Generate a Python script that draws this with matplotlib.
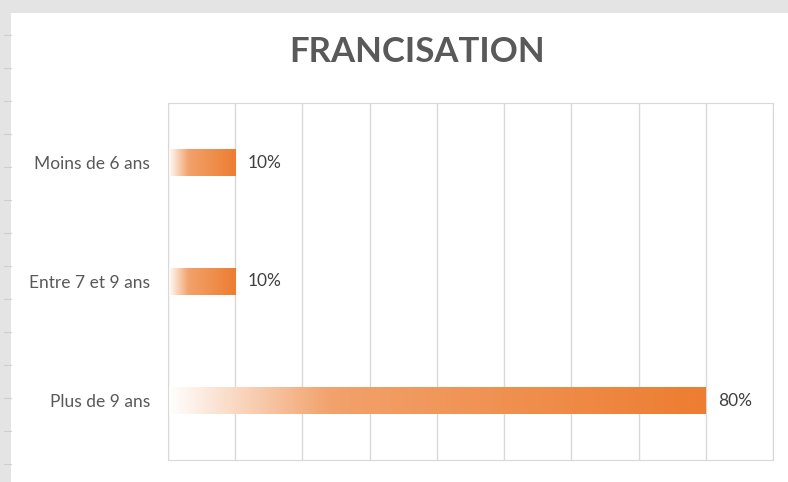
import numpy as np
import matplotlib.pyplot as plt
from matplotlib.colors import LinearSegmentedColormap
from matplotlib.patches import Rectangle

# data
categories = ['Moins de 6 ans', 'Entre 7 et 9 ans', 'Plus de 9 ans']
values = [0.10, 0.10, 0.80]
labels = ['10%', '10%', '80%']

plt.rcParams['font.family'] = ['Lato', 'DejaVu Sans']

fig = plt.figure(figsize=(7.88, 4.82), dpi=100)
fig.patch.set_facecolor('white')

# grey frame of the screenshot (sheet behind the chart)
fig.add_artist(Rectangle((0, 0), 11/788, 1, transform=fig.transFigure,
                         facecolor='#E4E4E4', edgecolor='none', zorder=0))
fig.add_artist(Rectangle((0, 1 - 13/482), 1, 13/482, transform=fig.transFigure,
                         facecolor='#E4E4E4', edgecolor='none', zorder=0))
for yy in np.arange(35, 482, 33):
    fig.add_artist(plt.Line2D([4/788, 11/788], [1 - yy/482]*2, transform=fig.transFigure,
                              color='#CFCFCF', lw=0.8))

ax = fig.add_axes([168/788, 22/482, 605/788, 357/482])

grad = LinearSegmentedColormap.from_list('grad', [(0, '#FFFFFF'), (0.3, '#F2A26C'), (1, '#ED7D31')])
ypos = np.arange(len(categories))
bars = ax.barh(ypos, values, height=0.23, color='none', zorder=3)
g = np.linspace(0, 1, 256).reshape(1, -1)
for b in bars:
    x0, y0 = b.get_x(), b.get_y()
    w, h = b.get_width(), b.get_height()
    im = ax.imshow(g, cmap=grad, aspect='auto', extent=[x0, x0 + w, y0, y0 + h],
                   zorder=2, interpolation='bicubic')
    im.set_clip_path(b)

for i, v in enumerate(values):
    ax.annotate(labels[i], (v, ypos[i]), textcoords='offset points', xytext=(9, 0),
                va='center', ha='left', fontsize=12.5, color='#404040')

ax.set_xlim(0, 0.9)
ax.set_ylim(2.5, -0.5)
ax.set_xticks(np.arange(0, 0.91, 0.1))
ax.set_xticklabels([])
ax.set_yticks(ypos)
ax.set_yticklabels(categories, fontsize=12.5, color='#595959')
ax.tick_params(length=0)
ax.tick_params(axis='y', pad=13)
ax.grid(axis='x', color='#D9D9D9', lw=1)
ax.set_axisbelow(True)
for s in ax.spines.values():
    s.set_color('#D9D9D9')

fig.text(417/788, 1 - 52/482, 'FRANCISATION', ha='center', va='center',
         fontsize=25, fontweight='bold', color='#595959')

fig.savefig('out.png', dpi=100)
